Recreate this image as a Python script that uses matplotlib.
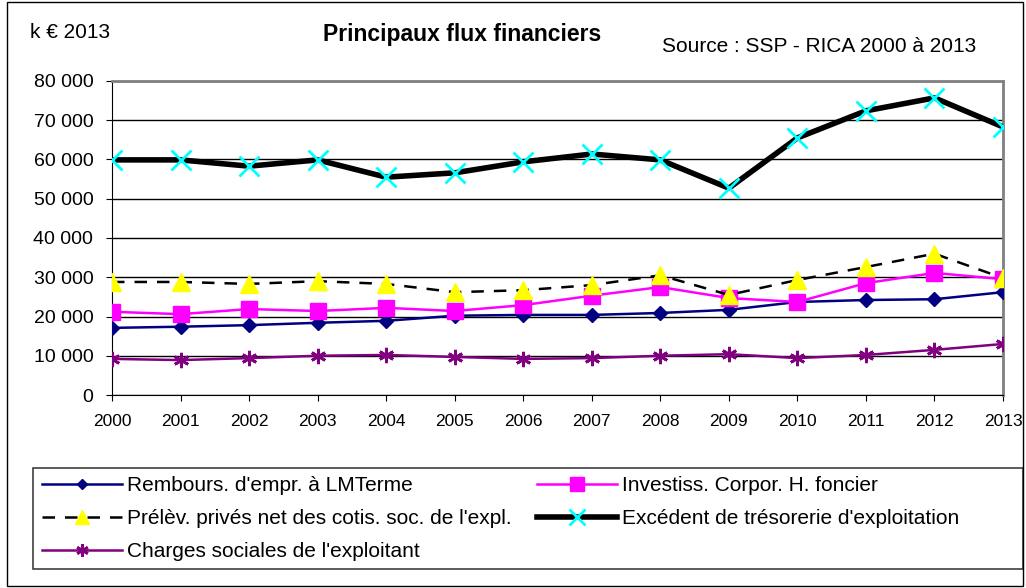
import numpy as np
import matplotlib.pyplot as plt
from matplotlib.patches import Rectangle
from matplotlib.ticker import FuncFormatter

plt.rcParams['font.family'] = ['Liberation Sans', 'DejaVu Sans']

years = list(range(2000, 2014))
rembours = [17100, 17400, 17800, 18400, 18900, 20200, 20400, 20400, 20900, 21700, 23700, 24200, 24400, 26200]
investiss = [21200, 20600, 21900, 21400, 22200, 21400, 22900, 25300, 27500, 24700, 23700, 28500, 31100, 29500]
prelev = [28800, 28800, 28300, 29000, 28300, 26200, 26700, 28000, 30500, 25500, 29300, 32600, 36000, 29800]
excedent = [59900, 59900, 58300, 59900, 55500, 56600, 59400, 61400, 59900, 52700, 65500, 72400, 75700, 68300]
charges = [9200, 8900, 9400, 10000, 10200, 9700, 9200, 9400, 10000, 10400, 9400, 10200, 11500, 13000]

W, H = 1026, 588
fig = plt.figure(figsize=(W / 100, H / 100), dpi=100)
ax = fig.add_axes([112/W, 1 - 395/H, (1003 - 112)/W, (395 - 81)/H])

l1, = ax.plot(years, rembours, color='#000080', lw=1.8, marker='D', ms=7, mfc='#000080', mec='#000080', zorder=4)
l2, = ax.plot(years, investiss, color='#ff00ff', lw=1.8, marker='s', ms=12, mfc='#ff00ff', mec='#ff00ff', zorder=4)
l3, = ax.plot(years, prelev, color='black', lw=1.8, ls=(0, (5, 4)), marker='^', ms=13, mfc='#ffff00', mec='#ffff00', zorder=4)
l4, = ax.plot(years, excedent, color='black', lw=4, marker='x', ms=14, mew=2, mec='#00ffff', zorder=4)
l5, = ax.plot(years, charges, color='#800080', lw=1.8, marker=(6, 2, 0), ms=11, mew=2, mec='#800080', zorder=4)

ax.set_xlim(2000, 2013)
ax.set_ylim(0, 80000)
ax.set_yticks(np.arange(0, 80001, 10000))
ax.set_xticks(years)
ax.yaxis.set_major_formatter(FuncFormatter(lambda v, p: f'{int(v):,}'.replace(',', ' ')))
ax.grid(axis='y', color='black', lw=1)
ax.set_axisbelow(True)
ax.tick_params(axis='y', labelsize=14, length=4.5, direction='out', pad=9)
ax.tick_params(axis='x', labelsize=12.5, length=4.5, direction='out', pad=9)
for s in ['top', 'right']:
    ax.spines[s].set_color('#808080')
    ax.spines[s].set_linewidth(2)
for s in ['left', 'bottom']:
    ax.spines[s].set_color('black')

fig.text(30/W, 1 - 33/H, 'k € 2013', fontsize=15, va='center')
fig.text(462/W, 1 - 34/H, 'Principaux flux financiers', fontsize=16.5, fontweight='bold', ha='center', va='center')
fig.text(662/W, 1 - 47/H, 'Source : SSP - RICA 2000 à 2013', fontsize=15, va='center')

# legend box drawn by hand, legend itself frameless
fig.add_artist(Rectangle((33/W, 1 - 569/H), (1023 - 33)/W, (569 - 468)/H, transform=fig.transFigure,
                         fill=False, edgecolor='#404040', lw=1.2))
leg = fig.legend([l1, l3, l5, l2, l4],
                 ["Rembours. d'empr. à LMTerme",
                  "Prélèv. privés net des cotis. soc. de l'expl.",
                  "Charges sociales de l'exploitant",
                  "Investiss. Corpor. H. foncier",
                  "Excédent de trésorerie d'exploitation"],
                 ncol=2, loc='upper left', bbox_to_anchor=(42/W, 1 - 476/H),
                 fontsize=15, frameon=False, handlelength=3.85, handletextpad=0.25,
                 markerscale=0.8, labelspacing=0.68, borderpad=0, borderaxespad=0, columnspacing=1.2)

fig.add_artist(Rectangle((7/W, 2/H), (1023 - 7)/W, (586 - 2)/H, transform=fig.transFigure,
                         fill=False, edgecolor='black', lw=1))

fig.savefig('out.png', dpi=100)
